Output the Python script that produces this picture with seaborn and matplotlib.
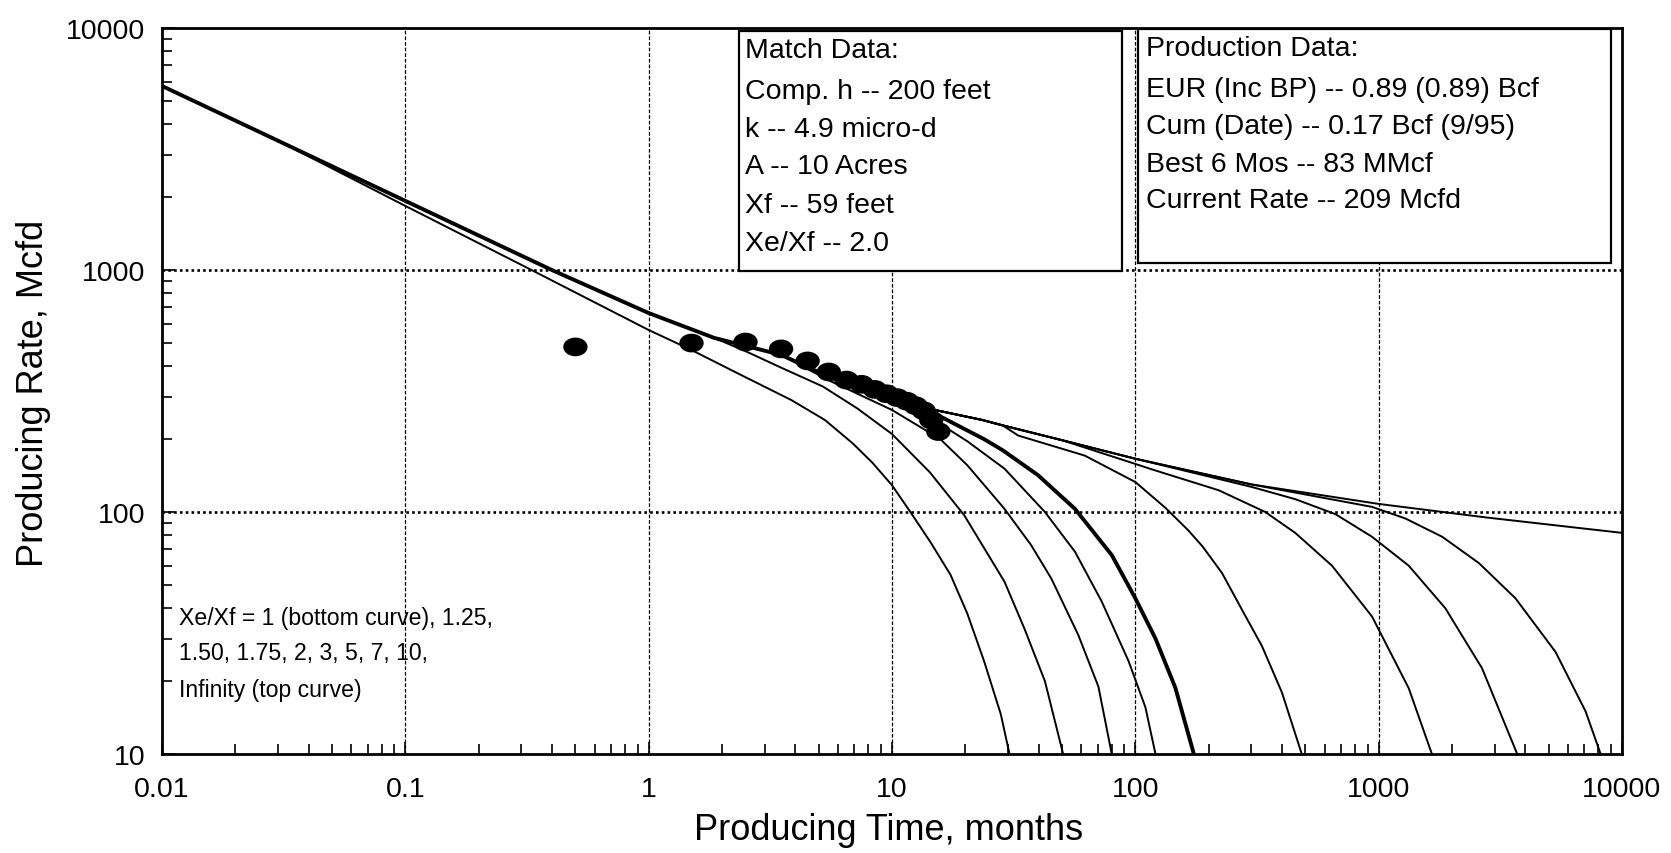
import numpy as np
import pandas as pd
import matplotlib
matplotlib.use("Agg")
import matplotlib.pyplot as plt
from matplotlib.patches import Rectangle
from matplotlib.path import Path
from matplotlib.ticker import FixedLocator, FixedFormatter, LogLocator, NullFormatter
import seaborn as sns

# ---------------- data ----------------
# Infinite-acting (top) type curve, months vs Mcfd
inf_t = [0.01, 0.03, 0.1, 0.4, 1, 1.86, 3.5, 5.5, 10, 15, 23.5, 28.5, 50, 100, 300, 1000, 2750, 10000]
inf_q = [5760, 3420, 1930, 1000, 664, 524, 446, 362, 292, 264, 240, 228, 198, 166, 130, 108, 95, 82]

# Bounded type curves (portion after leaving the infinite-acting curve)
xe_labels = ["1", "1.25", "1.50", "1.75", "2", "3", "5", "7", "10"]
xe1_t = [0.1, 0.33, 1, 1.5, 2.4, 3.86, 5.3, 6.9, 8.3, 10, 11.9, 14.4, 17.4, 20.4, 23.9, 28, 30.4]
xe1_q = [1840, 1000, 565, 467, 368, 290, 240, 192, 160, 129, 100, 75, 55, 38, 24.2, 14.6, 10]
xe125_t = [2.5, 3.5, 5.2, 7.2, 10, 14.3, 19.8, 23.9, 29, 35, 42.5, 50.5]
xe125_q = [462, 395, 330, 268, 210, 146, 97, 71, 51.5, 33, 20, 10]
xe150_t = [5.5, 10, 15.8, 20.4, 29, 37.3, 45.2, 58.3, 70.5, 80]
xe150_q = [350, 264, 200, 156, 103, 73, 53, 31, 19, 10]
xe175_t = [10, 14.4, 20.4, 29, 42.5, 56.5, 72.8, 93.8, 110, 121]
xe175_q = [282, 245, 196, 151, 100, 68.5, 42.6, 24.2, 15.6, 10]
xe2_t = [15, 23.9, 28.5, 39.8, 56.5, 80, 100, 121, 146, 174]
xe2_q = [255, 200, 180, 142, 103, 66.4, 44, 30, 18.8, 10]
xe3_t = [33, 62, 100, 133, 165, 189, 227, 280, 331, 400, 483]
xe3_q = [207, 171, 133, 104, 84, 72, 56, 38, 28, 18, 10]
xe5_t = [100, 117, 220, 342, 454, 643, 939, 1329, 1655]
xe5_q = [158, 150, 123, 100, 82, 60, 37, 18.7, 10]
xe7_t = [300, 454, 664, 939, 1329, 1880, 2660, 3710]
xe7_q = [127, 113, 98, 79, 60, 40, 22.6, 10]
xe10_t = [939, 1288, 1824, 2582, 3648, 5333, 7085, 8170]
xe10_q = [105, 94, 79, 61.5, 44, 26.4, 15, 10]

# Monthly production rates
prod_months = [0.5, 1.5, 2.5, 3.5, 4.5, 5.5, 6.5, 7.5, 8.5, 9.5, 10.5, 11.5, 12.5, 13.5, 14.5, 15.5]
prod_rate = [481, 499, 504, 472, 421, 379, 351, 337, 321, 308, 297, 287, 275, 262, 240, 215]

x_ticks = [0.01, 0.1, 1, 10, 100, 1000, 10000]
x_ticklabels = ["0.01", "0.1", "1", "10", "100", "1000", "10000"]
y_ticks = [10, 100, 1000, 10000]
y_ticklabels = ["10", "100", "1000", "10000"]

match_lines = ["Match Data:", "Comp. h -- 200 feet", "k -- 4.9 micro-d",
               "A -- 10 Acres", "Xf -- 59 feet", "Xe/Xf -- 2.0"]
prod_lines = ["Production Data:", "EUR (Inc BP) -- 0.89 (0.89) Bcf",
              "Cum (Date) -- 0.17 Bcf (9/95)", "Best 6 Mos -- 83 MMcf",
              "Current Rate -- 209 Mcfd"]
note_lines = ["Xe/Xf = 1 (bottom curve), 1.25,", "1.50, 1.75, 2, 3, 5, 7, 10,",
              "Infinity (top curve)"]

# ---------------- assemble curves ----------------
tails = [(xe1_t, xe1_q), (xe125_t, xe125_q), (xe150_t, xe150_q), (xe175_t, xe175_q),
         (xe2_t, xe2_q), (xe3_t, xe3_q), (xe5_t, xe5_q), (xe7_t, xe7_q), (xe10_t, xe10_q)]
frames = []
for lab, (tt, qq) in zip(xe_labels, tails):
    head_t = [t for t in inf_t if t < tt[0]]
    head_q = [q for t, q in zip(inf_t, inf_q) if t < tt[0]]
    frames.append(pd.DataFrame({"t": head_t + list(tt), "q": head_q + list(qq), "curve": lab}))
frames.append(pd.DataFrame({"t": inf_t, "q": inf_q, "curve": "Infinity"}))
curves = pd.concat(frames, ignore_index=True)
prod = pd.DataFrame({"t": prod_months, "q": prod_rate})

# ---------------- figure ----------------
sns.set_theme(style="white")
plt.rcParams["font.family"] = ["Liberation Sans", "DejaVu Sans"]
W, H = 1671, 854
fig = plt.figure(figsize=(W / 100, H / 100), dpi=100)
ax = fig.add_axes([162 / W, 1 - 755 / H, (1622 - 162) / W, (755 - 29) / H])
ax.set_xscale("log")
ax.set_yscale("log")

for lab in xe_labels + ["Infinity"]:
    sub = curves[curves["curve"] == lab]
    sns.lineplot(data=sub, x="t", y="q", ax=ax, color="black",
                 lw=2.8 if lab == "2" else 1.4, estimator=None, sort=True,
                 legend=False, zorder=3)

circ = Path.unit_circle()
ell = Path(circ.vertices * np.array([1.3, 1.0]), circ.codes)
sns.scatterplot(data=prod, x="t", y="q", ax=ax, marker=ell, s=17.5 ** 2,
                color="black", edgecolor="none", linewidth=0, zorder=4)

ax.set_xlim(0.01, 10000)
ax.set_ylim(10, 10000)

ax.xaxis.set_major_locator(FixedLocator(x_ticks))
ax.xaxis.set_major_formatter(FixedFormatter(x_ticklabels))
ax.yaxis.set_major_locator(FixedLocator(y_ticks))
ax.yaxis.set_major_formatter(FixedFormatter(y_ticklabels))
ax.xaxis.set_minor_locator(LogLocator(base=10, subs=np.arange(2, 10), numticks=20))
ax.yaxis.set_minor_locator(LogLocator(base=10, subs=np.arange(2, 10), numticks=20))
ax.xaxis.set_minor_formatter(NullFormatter())
ax.yaxis.set_minor_formatter(NullFormatter())
ax.tick_params(which="both", direction="in", top=False, right=False,
               bottom=True, left=True, colors="black")
ax.tick_params(which="major", length=9, width=1.2, labelsize=20.5)
ax.tick_params(which="minor", length=7, width=1.2)
ax.tick_params(axis="x", which="major", pad=16)
ax.tick_params(axis="y", which="major", pad=12)

ax.grid(False)
for xv in x_ticks[1:-1]:
    ax.axvline(xv, color="black", lw=0.9, ls=(0, (3, 1.5)), zorder=1)
for yv in y_ticks[1:-1]:
    ax.axhline(yv, color="black", lw=1.9, ls=(0, (1, 1.2)), zorder=1)

for side in ["left", "bottom", "right", "top"]:
    ax.spines[side].set_color("black")
    ax.spines[side].set_linewidth(2.0)
    ax.spines[side].set_visible(True)

ax.set_xlabel("")
ax.set_ylabel("")
fig.text(889 / W, 1 - 831 / H, "Producing Time, months", fontsize=26,
         ha="center", va="center", color="black")
fig.text(34 / W, 1 - 393 / H, "Producing Rate, Mcfd", fontsize=26,
         ha="center", va="center", rotation=90, color="black")


def fig_xy(x, y):
    return x / W, 1 - y / H


# information boxes
for (x0, y0, x1, y1) in [(739, 32, 1122, 272), (1138, 30, 1611, 264)]:
    fx0, fy1 = fig_xy(x0, y1)
    rect = Rectangle((fx0, fy1), (x1 - x0) / W, (y1 - y0) / H, transform=fig.transFigure,
                     facecolor="white", edgecolor="black", lw=1.6, zorder=6)
    fig.add_artist(rect)

for line, yc in zip(match_lines, [51, 92, 130, 167, 206, 244]):
    fig.text(*fig_xy(745, yc), line, fontsize=20.5, ha="left", va="center",
             color="black", zorder=7)
for line, yc in zip(prod_lines, [49, 90, 127, 165, 201]):
    fig.text(*fig_xy(1146, yc), line, fontsize=20.5, ha="left", va="center",
             color="black", zorder=7)
for line, yc in zip(note_lines, [618, 654, 691]):
    fig.text(*fig_xy(179, yc), line, fontsize=16.6, ha="left", va="center",
             color="black", zorder=7)

fig.savefig("out.png", dpi=100, facecolor="white")
